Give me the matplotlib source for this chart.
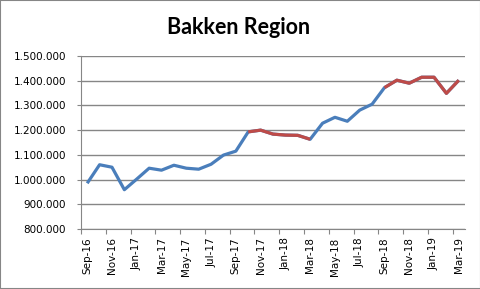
import matplotlib
matplotlib.use('Agg')
import matplotlib.pyplot as plt
from matplotlib.patches import Rectangle
from matplotlib.ticker import FuncFormatter

months = ["Sep-16", "Oct-16", "Nov-16", "Dec-16", "Jan-17", "Feb-17", "Mar-17",
          "Apr-17", "May-17", "Jun-17", "Jul-17", "Aug-17", "Sep-17", "Oct-17",
          "Nov-17", "Dec-17", "Jan-18", "Feb-18", "Mar-18", "Apr-18", "May-18",
          "Jun-18", "Jul-18", "Aug-18", "Sep-18", "Oct-18", "Nov-18", "Dec-18",
          "Jan-19", "Feb-19", "Mar-19"]
production = [985000, 1060000, 1050000, 959000, 1002000, 1046000, 1038000,
              1058000, 1046000, 1042000, 1062000, 1099000, 1115000, 1193000,
              1200000, 1184000, 1180000, 1179000, 1163000, 1228000, 1252000,
              1236000, 1281000, 1305000, 1372000, 1402000, 1390000, 1414000,
              1414000, 1349000, 1402000]
# index ranges (inclusive) drawn in red
red_spans = [(13, 18), (24, 30)]

BLUE = "#4A7EBB"
RED = "#BE4B48"
GRID = "#868686"

fig = plt.figure(figsize=(4.81, 2.89), dpi=100)
fig.patch.set_facecolor("white")
fig.patches.append(Rectangle((0, 0), 1, 1, transform=fig.transFigure,
                             fill=False, edgecolor=GRID, linewidth=1.5))
ax = fig.add_axes([81 / 481, 1 - 229 / 289, 384 / 481, 173 / 289])

x = list(range(len(months)))
ax.plot(x, production, color=BLUE, linewidth=2.3, solid_capstyle="butt", zorder=3)
for a, b in red_spans:
    ax.plot(x[a:b + 1], production[a:b + 1], color=RED, linewidth=2.3,
            solid_capstyle="butt", zorder=4)

ax.set_xlim(-0.5, len(months) - 0.5)
ax.set_ylim(800000, 1500000)
ax.set_yticks(range(800000, 1500001, 100000))
ax.yaxis.set_major_formatter(FuncFormatter(lambda v, p: f"{int(v):,}".replace(",", ".")))
ax.grid(axis="y", color=GRID, linewidth=1)

# ticks between categories, labels every other month
ax.set_xticks([i - 0.5 for i in range(0, len(months), 2)])
ax.set_xticklabels([])
ax.set_xticks(x[::2], minor=True)
ax.set_xticklabels(months[::2], minor=True, rotation=90, fontsize=7.5)
ax.tick_params(axis="x", which="major", length=3.6, color=GRID, direction="out")
ax.tick_params(axis="x", which="minor", length=0, pad=6)
ax.tick_params(axis="y", length=3.2, color=GRID, labelsize=7.5, pad=7.5)

for s in ["top", "right"]:
    ax.spines[s].set_visible(False)
for s in ["left", "bottom"]:
    ax.spines[s].set_color(GRID)

fig.text(0.497, 0.905, "Bakken Region", ha="center", va="center",
         fontsize=15.5, fontweight="bold", family="Lato")

fig.savefig("out.png", dpi=100)
